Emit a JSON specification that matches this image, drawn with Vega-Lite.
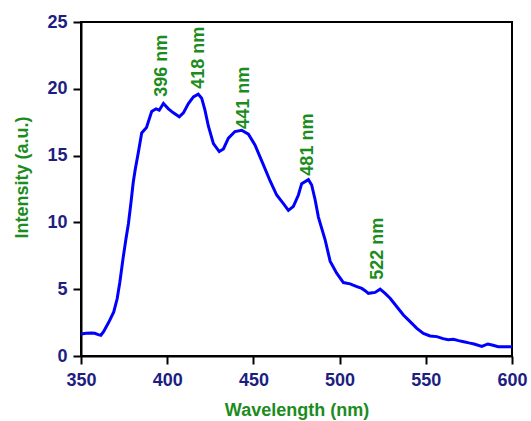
{
  "$schema": "https://vega.github.io/schema/vega-lite/v6.json",
  "width": 431,
  "height": 334,
  "autosize": "none",
  "padding": {"left": 81, "top": 22, "right": 19, "bottom": 65},
  "background": "white",
  "config": {
    "view": {"stroke": "black", "strokeWidth": 2},
    "axis": {
      "grid": false,
      "domain": true,
      "ticks": true,
      "domainColor": "black",
      "domainWidth": 2,
      "tickColor": "black",
      "tickWidth": 2,
      "labelFont": "Liberation Sans",
      "labelFontSize": 18,
      "labelFontWeight": "bold",
      "labelColor": "#1e1e82",
      "labelFlush": false,
      "labelOverlap": false,
      "titleFont": "Liberation Sans",
      "titleFontSize": 18,
      "titleFontWeight": "bold",
      "titleColor": "#1c8c1c"
    }
  },
  "datasets": {
    "spectrum": [
      {"wavelength": 350, "intensity": 1.65},
      {"wavelength": 353, "intensity": 1.7},
      {"wavelength": 356, "intensity": 1.72},
      {"wavelength": 358, "intensity": 1.7},
      {"wavelength": 360, "intensity": 1.6},
      {"wavelength": 361.5, "intensity": 1.55},
      {"wavelength": 363, "intensity": 1.8},
      {"wavelength": 366, "intensity": 2.5},
      {"wavelength": 369, "intensity": 3.3},
      {"wavelength": 371, "intensity": 4.3},
      {"wavelength": 372.5, "intensity": 5.5},
      {"wavelength": 374.5, "intensity": 7.4},
      {"wavelength": 376, "intensity": 8.7},
      {"wavelength": 377.5, "intensity": 9.9},
      {"wavelength": 379, "intensity": 11.5},
      {"wavelength": 380.3, "intensity": 13.0},
      {"wavelength": 381.5, "intensity": 14.0},
      {"wavelength": 383.2, "intensity": 15.2},
      {"wavelength": 385.2, "intensity": 16.7},
      {"wavelength": 388, "intensity": 17.1},
      {"wavelength": 391, "intensity": 18.3},
      {"wavelength": 393.5, "intensity": 18.5},
      {"wavelength": 395.4, "intensity": 18.4},
      {"wavelength": 397.8, "intensity": 18.9},
      {"wavelength": 400.7, "intensity": 18.5},
      {"wavelength": 403.6, "intensity": 18.2},
      {"wavelength": 407, "intensity": 17.9},
      {"wavelength": 409.4, "intensity": 18.2},
      {"wavelength": 412.3, "intensity": 18.9},
      {"wavelength": 415.2, "intensity": 19.4},
      {"wavelength": 418, "intensity": 19.6},
      {"wavelength": 420, "intensity": 19.3},
      {"wavelength": 421.9, "intensity": 18.4},
      {"wavelength": 423.9, "intensity": 17.2},
      {"wavelength": 426.8, "intensity": 15.9},
      {"wavelength": 430.2, "intensity": 15.3},
      {"wavelength": 432.6, "intensity": 15.5},
      {"wavelength": 435.5, "intensity": 16.3},
      {"wavelength": 439.3, "intensity": 16.8},
      {"wavelength": 443.2, "intensity": 16.9},
      {"wavelength": 447.1, "intensity": 16.6},
      {"wavelength": 450.9, "intensity": 15.8},
      {"wavelength": 455.8, "intensity": 14.3},
      {"wavelength": 459.7, "intensity": 13.1},
      {"wavelength": 463.5, "intensity": 12.05},
      {"wavelength": 467.4, "intensity": 11.4},
      {"wavelength": 470.3, "intensity": 10.9},
      {"wavelength": 473.2, "intensity": 11.2},
      {"wavelength": 476.1, "intensity": 12.05},
      {"wavelength": 478, "intensity": 12.9},
      {"wavelength": 481.9, "intensity": 13.2},
      {"wavelength": 483.8, "intensity": 12.8},
      {"wavelength": 485.8, "intensity": 11.7},
      {"wavelength": 487.7, "intensity": 10.4},
      {"wavelength": 491.6, "intensity": 8.7},
      {"wavelength": 494.5, "intensity": 7.1},
      {"wavelength": 498.3, "intensity": 6.2},
      {"wavelength": 502.2, "intensity": 5.5},
      {"wavelength": 506.1, "intensity": 5.4},
      {"wavelength": 510, "intensity": 5.2},
      {"wavelength": 512.9, "intensity": 5.06},
      {"wavelength": 514.8, "intensity": 4.89},
      {"wavelength": 516.7, "intensity": 4.69},
      {"wavelength": 520.6, "intensity": 4.76},
      {"wavelength": 523.5, "intensity": 5.0},
      {"wavelength": 526.4, "intensity": 4.69},
      {"wavelength": 529.3, "intensity": 4.32},
      {"wavelength": 533.2, "intensity": 3.69},
      {"wavelength": 537, "intensity": 3.07},
      {"wavelength": 540.9, "intensity": 2.57},
      {"wavelength": 544.8, "intensity": 2.07},
      {"wavelength": 548.6, "intensity": 1.69},
      {"wavelength": 552.5, "intensity": 1.5},
      {"wavelength": 556.4, "intensity": 1.45},
      {"wavelength": 560, "intensity": 1.3},
      {"wavelength": 563, "intensity": 1.22},
      {"wavelength": 566, "intensity": 1.25},
      {"wavelength": 569, "intensity": 1.15},
      {"wavelength": 572, "intensity": 1.07},
      {"wavelength": 575, "intensity": 0.98},
      {"wavelength": 578, "intensity": 0.9},
      {"wavelength": 582.5, "intensity": 0.72},
      {"wavelength": 586, "intensity": 0.9},
      {"wavelength": 589, "intensity": 0.8},
      {"wavelength": 592, "intensity": 0.7},
      {"wavelength": 596, "intensity": 0.7},
      {"wavelength": 600, "intensity": 0.7}
    ],
    "peaks": [
      {"wavelength": 396.7, "intensity": 19.4, "label": "396 nm"},
      {"wavelength": 418.5, "intensity": 20.0, "label": "418 nm"},
      {"wavelength": 444.6, "intensity": 17.0, "label": "441 nm"},
      {"wavelength": 481.9, "intensity": 13.5, "label": "481 nm"},
      {"wavelength": 522.3, "intensity": 5.7, "label": "522 nm"}
    ]
  },
  "layer": [
    {
      "data": {"name": "spectrum"},
      "mark": {"type": "line", "color": "#0000ff", "strokeWidth": 3},
      "encoding": {
        "x": {
          "field": "wavelength", "type": "quantitative",
          "scale": {"domain": [350, 600], "nice": false, "zero": false},
          "axis": {"orient": "bottom", "values": [350, 400, 450, 500, 550, 600], "tickSize": 8, "labelPadding": 7,
                   "title": "Wavelength (nm)", "titleBaseline": "alphabetic", "titleY": 59}
        },
        "y": {
          "field": "intensity", "type": "quantitative",
          "scale": {"domain": [0, 25], "nice": false},
          "axis": {"orient": "left", "values": [0, 5, 10, 15, 20, 25], "tickSize": 8, "labelPadding": 6,
                   "title": "Intensity (a.u.)", "titleBaseline": "alphabetic", "titleX": -54, "titleY": 155}
        }
      }
    },
    {
      "data": {"name": "peaks"},
      "mark": {"type": "text", "angle": 270, "align": "left", "baseline": "middle", "font": "Liberation Sans",
               "fontSize": 18, "fontWeight": "bold", "color": "#1c8c1c"},
      "encoding": {
        "x": {"field": "wavelength", "type": "quantitative"},
        "y": {"field": "intensity", "type": "quantitative"},
        "text": {"field": "label"}
      }
    }
  ]
}
